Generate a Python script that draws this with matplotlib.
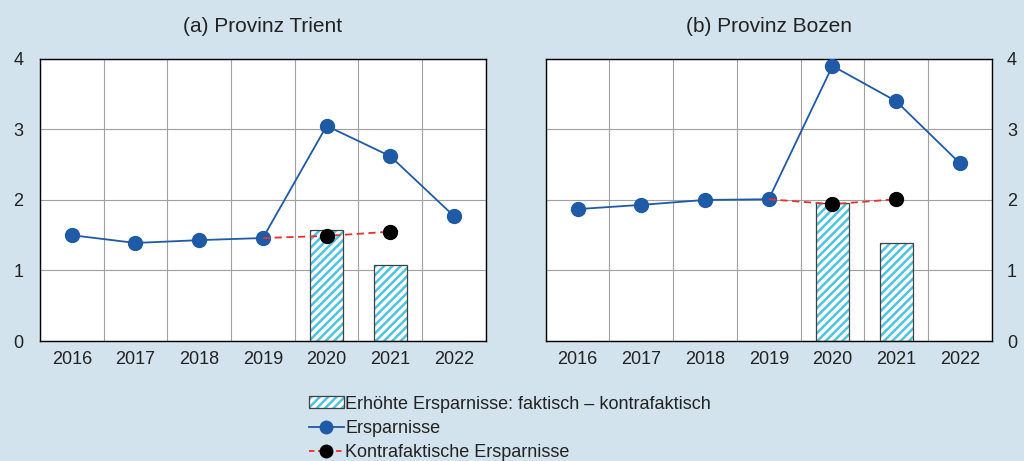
# Ersparnisse: faktisch vs. kontrafaktisch, Trient und Bozen
import numpy as np
import matplotlib.pyplot as plt
from matplotlib.patches import Patch
from matplotlib.lines import Line2D
from matplotlib.legend_handler import HandlerTuple

years = ['2016', '2017', '2018', '2019', '2020', '2021', '2022']

trient_spar = [1.50, 1.39, 1.43, 1.46, 3.05, 2.62, 1.77]
trient_kontra = [1.46, 1.49, 1.55]      # 2019-2021
trient_diff = [1.57, 1.08]              # 2020-2021

bozen_spar = [1.87, 1.93, 2.00, 2.01, 3.90, 3.40, 2.52]
bozen_kontra = [2.01, 1.94, 2.01]
bozen_diff = [1.96, 1.39]

titles = ['(a) Provinz Trient', '(b) Provinz Bozen']

bg = '#d3e3ed'
blue = '#1f5aa6'
hatch_col = '#4fc3e0'

plt.rcParams['font.family'] = ['Liberation Sans', 'DejaVu Sans']
plt.rcParams['hatch.linewidth'] = 1.8

fig = plt.figure(figsize=(10.24, 4.61), dpi=100, facecolor=bg)
ax1 = fig.add_axes([0.039, 0.2603, 0.4355, 0.612])
ax2 = fig.add_axes([0.533, 0.2603, 0.4355, 0.612])

x = np.arange(len(years))
data = [(trient_spar, trient_kontra, trient_diff), (bozen_spar, bozen_kontra, bozen_diff)]

for ax, (spar, kontra, diff), title in zip([ax1, ax2], data, titles):
    ax.set_facecolor('white')
    # Balken: erst Schraffur, dann Rahmen
    ax.bar(x[4:6], diff, width=0.52, color='white', edgecolor=hatch_col,
           hatch='////', linewidth=0, zorder=2)
    ax.bar(x[4:6], diff, width=0.52, fill=False, edgecolor='#404040',
           linewidth=0.9, zorder=3)
    ax.plot(x, spar, color=blue, lw=1.3, marker='o', ms=10,
            markerfacecolor=blue, markeredgecolor=blue, zorder=4)
    ax.plot(x[3:6], kontra, color='#e8312d', lw=1.3, ls=(0, (4, 2.5)),
            marker='o', ms=10, markevery=[1, 2], markerfacecolor='black',
            markeredgecolor='black', zorder=5)

    ax.set_xlim(-0.5, 6.5)
    ax.set_ylim(0, 4)
    ax.set_yticks([0, 1, 2, 3, 4])
    ax.set_xticks(x)
    ax.set_xticklabels(years)
    ax.set_xticks(np.arange(-0.5, 7, 1), minor=True)
    ax.grid(True, which='minor', axis='x', color='#a0a0a0', lw=0.8)
    ax.grid(True, which='major', axis='y', color='#a0a0a0', lw=0.8)
    ax.tick_params(which='both', length=0, labelsize=13, colors='#222222', pad=7)
    ax.tick_params(axis='y', pad=12)
    ax.set_axisbelow(True)
    for s in ax.spines.values():
        s.set_color('black')
        s.set_linewidth(1.0)
    ax.set_title(title, fontsize=15, color='#222222', pad=19)

ax2.yaxis.tick_right()
ax2.tick_params(axis='y', pad=11)

h_bar = (Patch(facecolor='white', edgecolor=hatch_col, hatch='////', linewidth=0),
         Patch(fill=False, edgecolor='#404040', linewidth=0.9))
h_spar = Line2D([], [], color=blue, lw=1.3, marker='o', ms=9)
h_kontra = Line2D([], [], color='#e8312d', lw=1.3, ls=(0, (3, 2)), marker='o', ms=9,
                  markerfacecolor='black', markeredgecolor='black')
fig.legend([h_bar, h_spar, h_kontra],
           ['Erhöhte Ersparnisse: faktisch – kontrafaktisch', 'Ersparnisse',
            'Kontrafaktische Ersparnisse'],
           handler_map={tuple: HandlerTuple(ndivide=1, pad=0)},
           loc='upper left', bbox_to_anchor=(0.302, 0.142), frameon=False,
           fontsize=13, handlelength=1.9, handleheight=0.6, handletextpad=0.1,
           labelspacing=0.4, borderaxespad=0, borderpad=0, labelcolor='#222222')

plt.savefig('out.png', dpi=100, facecolor=bg)
